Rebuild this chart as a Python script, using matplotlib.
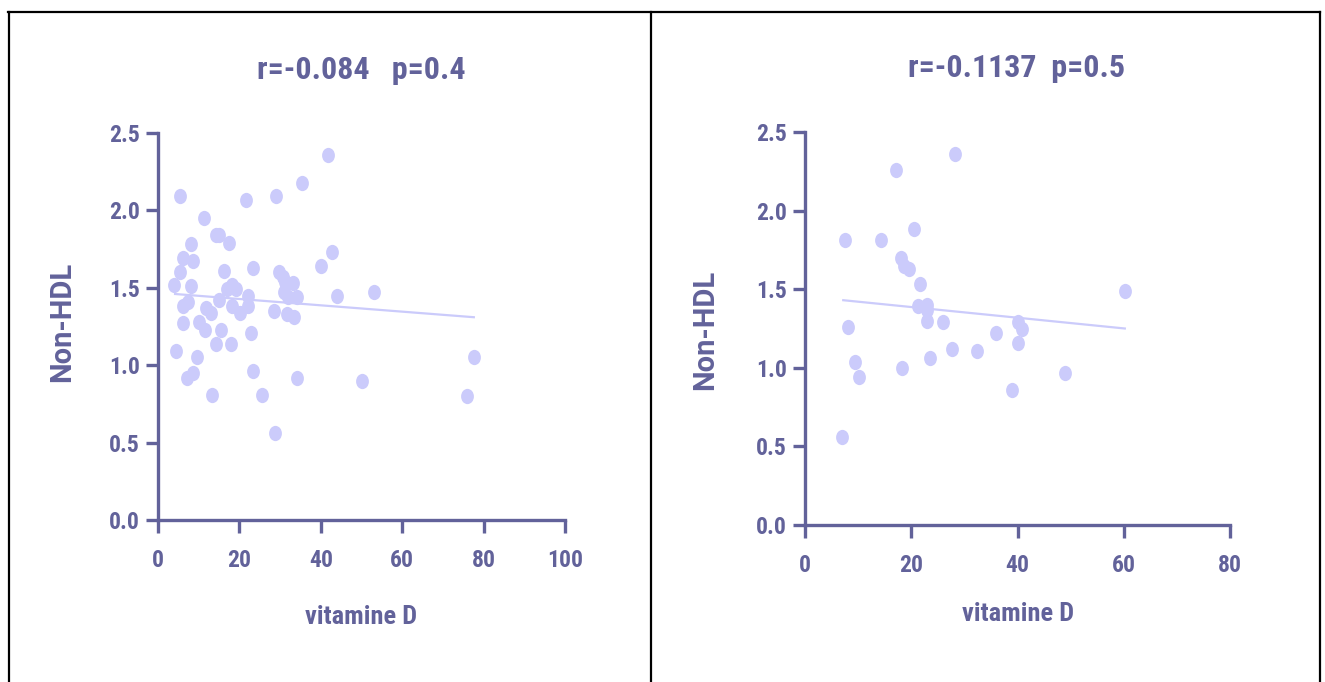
import numpy as np
import matplotlib
matplotlib.use("Agg")
import matplotlib.pyplot as plt
from matplotlib.path import Path
from matplotlib.transforms import Affine2D
from matplotlib.lines import Line2D

# ─── data ───────────────────────────────────────────────────────────────────
vitd_a = [41.8, 35.4, 5.4, 21.6, 29.0, 11.3, 14.3, 15.0, 17.4, 8.1,
          42.8, 6.1, 8.6, 5.4, 16.2, 23.3, 40.0, 3.9, 8.1, 29.7,
          30.7, 31.2, 33.2, 18.2, 17.0, 19.2, 22.1, 15.0, 34.2, 31.9,
          44.0, 53.1, 7.4, 6.1, 11.8, 13.0, 18.2, 20.1, 22.1, 28.5,
          31.7, 33.4, 31.0, 6.1, 10.1, 11.5, 15.5, 22.9, 14.3, 17.9,
          4.4, 9.6, 7.1, 8.6, 23.3, 34.2, 13.3, 25.6, 28.7, 50.1,
          77.6, 75.9]
nonhdl_a = [2.36, 2.18, 2.09, 2.07, 2.09, 1.95, 1.84, 1.84, 1.79, 1.78,
            1.73, 1.69, 1.67, 1.60, 1.61, 1.63, 1.64, 1.52, 1.51, 1.60,
            1.57, 1.54, 1.53, 1.52, 1.49, 1.49, 1.45, 1.42, 1.44, 1.44,
            1.45, 1.47, 1.41, 1.38, 1.37, 1.34, 1.38, 1.34, 1.38, 1.35,
            1.33, 1.31, 1.47, 1.27, 1.28, 1.23, 1.23, 1.21, 1.14, 1.14,
            1.09, 1.05, 0.92, 0.95, 0.96, 0.92, 0.81, 0.81, 0.56, 0.90,
            1.05, 0.80]
fit_x_a = [4.2, 77.6]
fit_y_a = [1.46, 1.31]

vitd_b = [28.2, 17.1, 20.5, 7.5, 14.3, 18.1, 18.6, 19.6, 21.6, 21.3,
          23.0, 23.0, 23.0, 26.0, 8.1, 9.4, 10.2, 18.3, 23.5, 27.7,
          32.4, 7.0, 60.2, 40.1, 40.8, 40.1, 36.0, 48.9, 39.0]
nonhdl_b = [2.36, 2.26, 1.88, 1.81, 1.81, 1.70, 1.65, 1.63, 1.53, 1.39,
            1.40, 1.37, 1.30, 1.29, 1.26, 1.04, 0.94, 1.00, 1.06, 1.12,
            1.11, 0.56, 1.49, 1.29, 1.25, 1.16, 1.22, 0.97, 0.86]
fit_x_b = [7.2, 60.2]
fit_y_b = [1.43, 1.25]

titles = ["r=-0.084   p=0.4", "r=-0.1137  p=0.5"]
xticks = [[0, 20, 40, 60, 80, 100], [0, 20, 40, 60, 80]]
yticks = [0.0, 0.5, 1.0, 1.5, 2.0, 2.5]

INK = "#62629a"
DOT = "#cbcbfb"
# condensed face for horizontal text, wider face for the rotated label
NARROW = dict(family=["Roboto Condensed", "DejaVu Sans"], fontweight="bold")
WIDE = dict(family=["Roboto", "DejaVu Sans"], fontweight="bold")

W, H = 1325, 682
fig = plt.figure(figsize=(W / 100, H / 100), dpi=100)
fig.patch.set_facecolor("white")

# slightly tall ellipse marker
oval = Path.unit_circle().transformed(Affine2D().scale(0.84, 1.0))


def px_axes(x0, x1, y0, y1):
    # pixel box (left, right, y of zero, y of top) -> figure fraction
    return fig.add_axes([x0 / W, 1 - y0 / H, (x1 - x0) / W, (y0 - y1) / H])


panels = [
    dict(box=(158, 565, 520, 133), x=vitd_a, y=nonhdl_a, fx=fit_x_a, fy=fit_y_a,
         xmax=100, xt=xticks[0], title=titles[0], tpos=(361, 70),
         ylpos=(62, 322), xlpos=(361, 617)),
    dict(box=(805, 1230, 525, 132), x=vitd_b, y=nonhdl_b, fx=fit_x_b, fy=fit_y_b,
         xmax=80, xt=xticks[1], title=titles[1], tpos=(1017, 68),
         ylpos=(705, 330), xlpos=(1018, 614)),
]

for p in panels:
    ax = px_axes(*p["box"])
    ax.set_xlim(0, p["xmax"])
    ax.set_ylim(0, 2.5)
    ax.plot(p["fx"], p["fy"], color=DOT, linewidth=1.6, zorder=2)
    ax.plot(p["x"], p["y"], linestyle="none", marker=oval, markersize=11,
            markerfacecolor=DOT, markeredgecolor="none", zorder=3, clip_on=False)

    for s in ("top", "right"):
        ax.spines[s].set_visible(False)
    for s in ("left", "bottom"):
        ax.spines[s].set_color(INK)
        ax.spines[s].set_linewidth(2.4)
    ax.set_xticks(p["xt"])
    ax.set_yticks(yticks)
    ax.set_xticklabels([str(v) for v in p["xt"]], **NARROW)
    ax.set_yticklabels([f"{v:.1f}" for v in yticks], **NARROW)
    ax.tick_params(axis="both", direction="out", length=9, width=2.4,
                   color=INK, labelcolor=INK, labelsize=17, pad=4)
    ax.tick_params(axis="x", pad=12)

    tx, ty = p["tpos"]
    fig.text(tx / W, 1 - ty / H, p["title"], ha="center", va="center",
             fontsize=23, color=INK, **NARROW)
    lx, ly = p["ylpos"]
    fig.text(lx / W, 1 - ly / H, "Non-HDL", ha="center", va="center",
             rotation=90, fontsize=21, color=INK, **WIDE)
    xx, xy = p["xlpos"]
    fig.text(xx / W, 1 - xy / H, "vitamine D", ha="center", va="center",
             fontsize=19, color=INK, **NARROW)

# table-like frame around the two panels
top = 1 - 12 / H
for a, b in [((8 / W, 1320 / W), (top, top)),
             ((8.5 / W, 8.5 / W), (top, 0)),
             ((651 / W, 651 / W), (top, 0)),
             ((1320 / W, 1320 / W), (top, 0))]:
    fig.add_artist(Line2D(a, b, color="black", linewidth=1.6,
                          transform=fig.transFigure))

fig.savefig("out.png", dpi=100)
